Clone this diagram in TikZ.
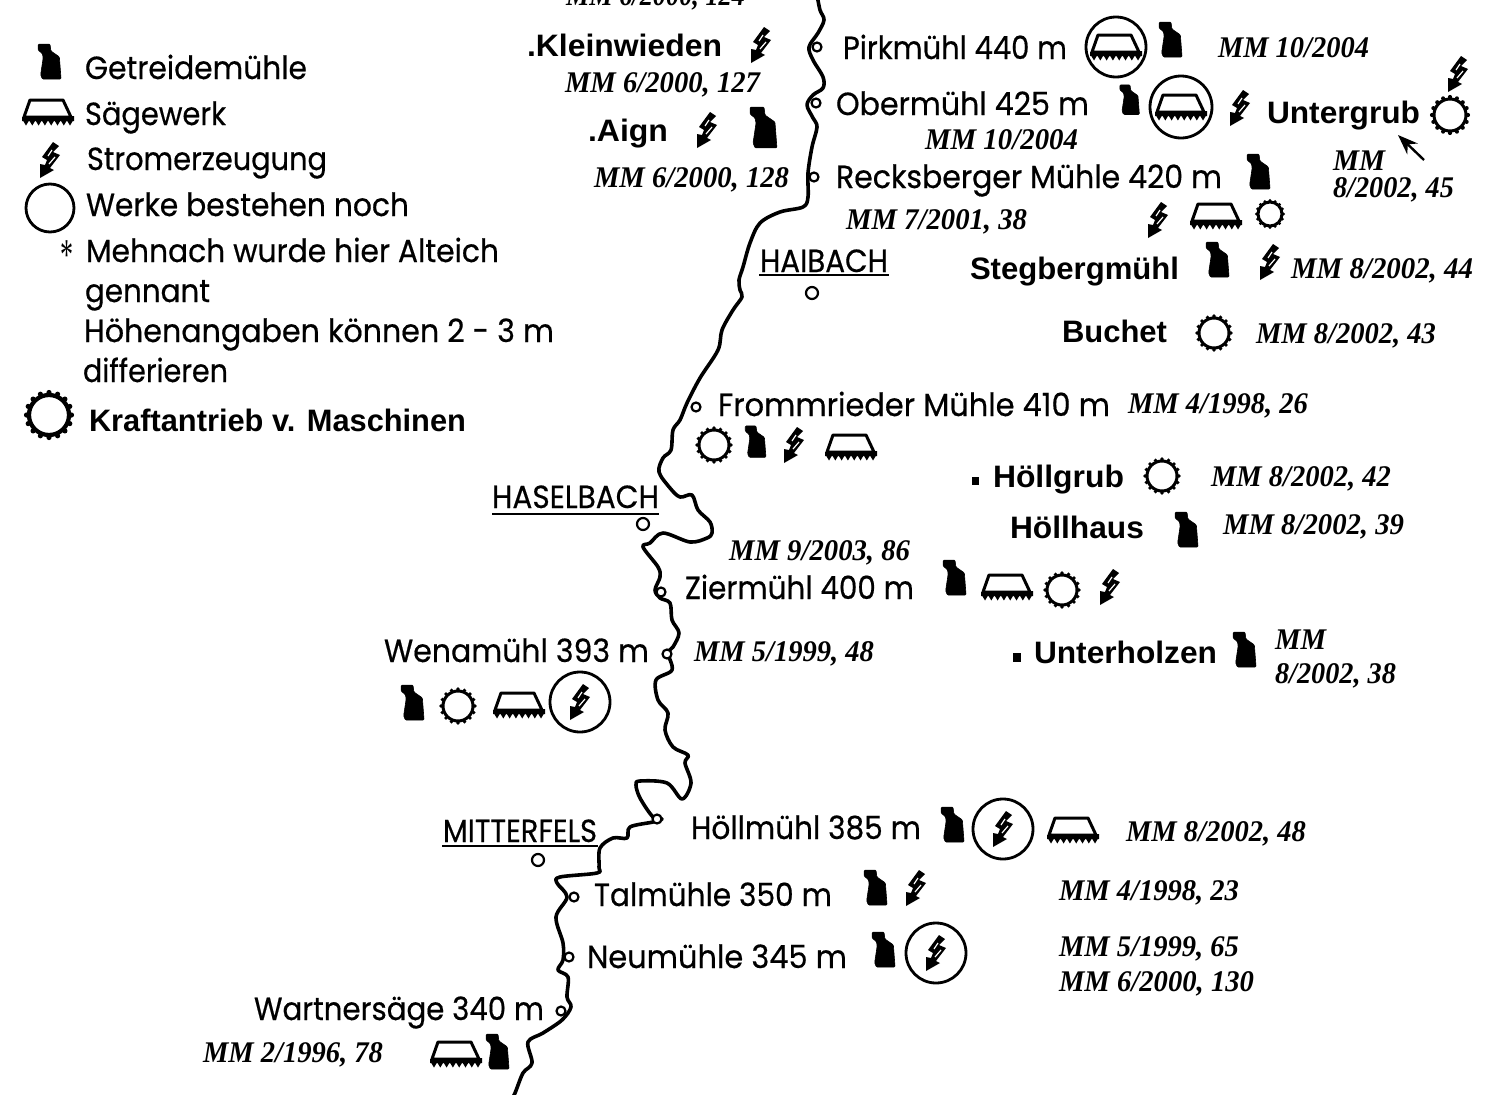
\documentclass[tikz,border=0pt]{standalone}
\usepackage{fontspec}
\usepackage{graphicx}
\usetikzlibrary{arrows.meta}
\newfontfamily\fsansfam{Poppins}[FakeBold=0.5]
\newfontfamily\fboldfam{Liberation Sans}[BoldFont={Liberation Sans Bold}]
\newfontfamily\fmmfam{Liberation Serif}[BoldItalicFont={Liberation Serif Bold Italic}]
\newcommand{\fsans}{\fsansfam\fontsize{32}{32}\selectfont}
\newcommand{\fbold}{\fboldfam\bfseries\fontsize{31}{31}\selectfont}
\newcommand{\fmm}{\fmmfam\bfseries\itshape\fontsize{30}{30}\selectfont}
\newcommand{\lab}[6]{\pgfmathsetlengthmacro{\labw}{#3-#2}\node[txt] (#1) at (#2,#4) {\resizebox{\labw}{\height}{#5#6}};}
\newcommand{\sn}[5]{\lab{#1}{#2}{#3}{#4+11}{\fsans}{#5}}
\newcommand{\bn}[5]{\lab{#1}{#2}{#3}{#4+11}{\fbold}{#5}}
\newcommand{\mn}[5]{\lab{#1}{#2}{#3}{#4+10}{\fmm}{#5}}
\tikzset{
  txt/.style={anchor=base west,inner sep=0pt,outer sep=0pt,text=black},
  river/.style={draw=black,line width=3.6pt,line join=round,line cap=round},
  site/.style={draw=black,line width=2.2pt,fill=white},
  ring/.style={draw=black,line width=2.8pt},
  rule/.style={draw=black,line width=2.4pt},
  mill/.pic={\fill[black,line join=round,draw=black,line width=.6pt,rounded corners=1pt,scale=.85] (-14,-21)--(0,-21)--(1,-13)--(11,-6)--(13,20)--(-9,20)--(-11,15)--(-8,-5)--(-9,-10)--(-14,-14)--cycle;},
  saw/.pic={
    \draw[black,line width=3pt,line join=round] (-18,-12)--(15,-12)--(23,5)--(-24,5)--cycle;
    \fill[black] (-26,5)--(26,4)--(26,9)--(-26,9)--cycle;
    \foreach \k in {-22,-15.7,-9.4,-3.1,3.2,9.5,15.8,22}{\fill[black] (\k-3.3,8)--(\k+3.3,8)--(\k,13.5)--cycle;}
  },
  bolt/.pic={
    \fill[black,line join=round] (3,-18)--(-8,-3)--(-3,0)--(-5,5)--(-10,4)--(-10,18)--(4,10)--(0,8)--(10,-5)--(3,-8)--(9,-14)--cycle;
    \draw[white,line width=1.2pt] (2,-10)--(-2,-4) (5,-3)--(-1,4);
  },
  gear/.pic={
    \draw[black,line width=3pt,fill=white] (0,0) circle (20);
    \foreach \a in {0,22.5,...,337.5}{\fill[black] (\a:22.5) circle (2.6);}
  },
}
\begin{document}
\begin{tikzpicture}[x=1pt,y=-1pt]
\path[use as bounding box,clip] (0,0) rectangle (1500,1095);
\fill[white] (0,0) rectangle (1500,1095);
% river
\draw[river] plot[smooth,tension=.55] coordinates {(817,-5)(820,10)(824,20)(818,33)(809,47)(813,60)(823,77)(823,88)(813,95)(807,105)(813,118)(817,127)(812,147)(808,173)(808,197)(803,207)(780,212)(760,223)(750,243)(743,267)(739,280)(740,290)(742,297)(733,310)(722,330)(718,350)(700,378)(687,403)(680,420)(673,430)(671,450)(663,458)(659,472)(670,488)(680,497)(692,495)(698,510)(710,522)(712,533)(707,538)(690,542)(663,533)(650,543)(643,547)(658,567)(660,577)(655,590)(660,598)(670,603)(672,620)(679,633)(673,647)(668,653)(672,670)(656,680)(658,700)(668,713)(665,730)(673,747)(688,755)(685,763)(691,783)(682,799)(667,783)(640,781)(636,785)(640,798)(653,817)(662,819)(653,822)(630,827)(627,838)(613,838)(600,848)(599,867)(597,873)(560,877)(557,883)(567,897)(556,917)(563,943)(563,960)(558,970)(568,977)(567,997)(571,1007)(562,1020)(543,1033)(528,1042)(532,1063)(523,1073)(515,1093)(510,1102)};
% sites on the river
\foreach \p in {(817,47),(816,103),(814,177),(696,407),(661,592),(667,654),(657,819),(574,897),(569,957),(561,1011)}{\draw[site] \p circle (4.5);}
% towns
\draw[site] (812,293) circle (6);
\draw[site] (643,524) circle (6);
\draw[site] (538,860) circle (6);
\draw[rule] (759,275)--(889,275);
\draw[rule] (492,514)--(659,514);
\draw[rule] (442,846)--(598,846);
\sn{haibach}{760}{888}{261}{HAIBACH}
\sn{haselbach}{492}{659}{497}{HASELBACH}
\sn{mitterfels}{443}{597}{831}{MITTERFELS}
% legend
\pic at (50,62) {mill};
\pic at (48,112) {saw};
\pic at (50,160) {bolt};
\draw[ring] (50,208) circle (24);
\pic at (49,415) {gear};
\draw[black,line width=4.2pt] (49,415) circle (20);
\sn{l1}{85}{307}{68}{Getreidemühle}
\sn{l2}{85}{226}{114}{Sägewerk}
\sn{l3}{87}{327}{159}{Stromerzeugung}
\sn{l4}{86}{409}{205}{Werke bestehen noch}
\lab{l5a}{60}{73}{269}{\fmmfam\fontsize{44}{44}\selectfont}{*}
\sn{l5}{86}{499}{251}{Mehnach wurde hier Alteich}
\sn{l6}{85}{210}{291}{gennant}
\sn{l7}{84}{554}{331}{Höhenangaben können 2 - 3 m}
\sn{l8}{83}{228}{371}{differieren}
\bn{l9}{89}{466}{420}{Kraftantrieb v. Maschinen}
% left bank upper
\mn{m124}{566}{745}{-5}{MM 6/2000, 124}
\bn{kleinwieden}{527}{722}{45}{.Kleinwieden}
\pic at (761,45) {bolt};
\mn{m127}{565}{760}{82}{MM 6/2000, 127}
\bn{aign}{588}{668}{130}{.Aign}
\pic at (707,130) {bolt};
\pic[scale=1.17] at (764,128) {mill};
\mn{m128}{594}{789}{177}{MM 6/2000, 128}
% Pirkmühl
\sn{pirk}{843}{1067}{48}{Pirkmühl 440 m}
\draw[ring] (1116,47) circle (30);
\pic at (1116,47) {saw};
\pic at (1171,40) {mill};
\mn{m1004a}{1218}{1369}{47}{MM 10/2004}
% Obermühl
\sn{ober}{836}{1089}{104}{Obermühl 425 m}
\pic[scale=.85] at (1130,100) {mill};
\draw[ring] (1181,107) circle (31);
\pic at (1181,107) {saw};
\pic at (1240,108) {bolt};
\mn{m1004b}{925}{1078}{139}{MM 10/2004}
\bn{untergrub}{1267}{1420}{112}{Untergrub}
\pic[scale=.8] at (1450,115) {gear};
\pic at (1458,74) {bolt};
\mn{m45a}{1333}{1385}{160}{MM}
\mn{m45b}{1333}{1454}{187}{8/2002, 45}
\coordinate (arrowtail) at (1424,160);
\coordinate (arrowhead) at (1398,135);
\draw[black,line width=2.4pt,-{Stealth[length=20pt,width=15pt]}] (arrowtail)--(arrowhead);
% Recksberger
\sn{reck}{836}{1222}{177}{Recksberger Mühle 420 m}
\pic at (1259,172) {mill};
\mn{m38}{846}{1027}{219}{MM 7/2001, 38}
\pic at (1158,220) {bolt};
\pic at (1216,216) {saw};
\pic[scale=.6] at (1270,214) {gear};
% Stegbergmühl, Buchet
\bn{steg}{970}{1179}{268}{Stegbergmühl}
\pic at (1218,260) {mill};
\pic at (1270,262) {bolt};
\mn{m44}{1291}{1473}{268}{MM 8/2002, 44}
\bn{buchet}{1062}{1167}{331}{Buchet}
\pic[scale=.75] at (1214,333) {gear};
\mn{m43}{1256}{1436}{333}{MM 8/2002, 43}
% Frommried
\sn{fromm}{718}{1110}{405}{Frommrieder Mühle 410 m}
\mn{m26}{1128}{1308}{403}{MM 4/1998, 26}
\pic[scale=.75] at (714,445) {gear};
\pic[scale=.9] at (756,442) {mill};
\pic at (794,445) {bolt};
\pic at (851,447) {saw};
% Höll
\fill[black] (972,477) rectangle (979,485);
\bn{hgrub}{993}{1124}{476}{Höllgrub}
\pic[scale=.75] at (1162,476) {gear};
\mn{m42}{1211}{1391}{476}{MM 8/2002, 42}
\bn{hhaus}{1010}{1144}{527}{Höllhaus}
\pic at (1187,530) {mill};
\mn{m39}{1223}{1404}{524}{MM 8/2002, 39}
% Ziermühl
\mn{m86}{729}{910}{550}{MM 9/2003, 86}
\sn{zier}{685}{914}{588}{Ziermühl 400 m}
\pic at (955,578) {mill};
\pic at (1007,587) {saw};
\pic[scale=.75] at (1062,590) {gear};
\pic at (1110,587) {bolt};
% Unterholzen
\fill[black] (1013,653) rectangle (1021,662);
\bn{uholz}{1034}{1217}{652}{Unterholzen}
\pic at (1245,650) {mill};
\mn{m38a}{1275}{1326}{639}{MM}
\mn{m38b}{1275}{1396}{673}{8/2002, 38}
% Wenamühl
\sn{wena}{384}{649}{651}{Wenamühl 393 m}
\mn{m48}{694}{874}{651}{MM 5/1999, 48}
\pic at (413,703) {mill};
\pic[scale=.75] at (458,706) {gear};
\pic at (519,705) {saw};
\draw[ring] (580,702) circle (30);
\pic at (580,702) {bolt};
% Höllmühl
\sn{hmuehl}{691}{921}{828}{Höllmühl 385 m}
\pic at (953,825) {mill};
\draw[ring] (1003,829) circle (30);
\pic at (1003,829) {bolt};
\pic at (1073,830) {saw};
\mn{m48b}{1126}{1306}{831}{MM 8/2002, 48}
% Talmühle
\sn{tal}{594}{832}{895}{Talmühle 350 m}
\pic at (876,888) {mill};
\pic at (916,888) {bolt};
\mn{m23}{1059}{1239}{890}{MM 4/1998, 23}
% Neumühle
\sn{neu}{587}{847}{957}{Neumühle 345 m}
\pic at (884,950) {mill};
\draw[ring] (936,953) circle (30);
\pic at (936,953) {bolt};
\mn{m65}{1059}{1239}{946}{MM 5/1999, 65}
\mn{m130}{1059}{1254}{981}{MM 6/2000, 130}
% Wartnersäge
\sn{wart}{254}{544}{1009}{Wartnersäge 340 m}
\mn{m78}{203}{383}{1052}{MM 2/1996, 78}
\pic at (456,1054) {saw};
\pic at (498,1052) {mill};
\end{tikzpicture}
\end{document}
